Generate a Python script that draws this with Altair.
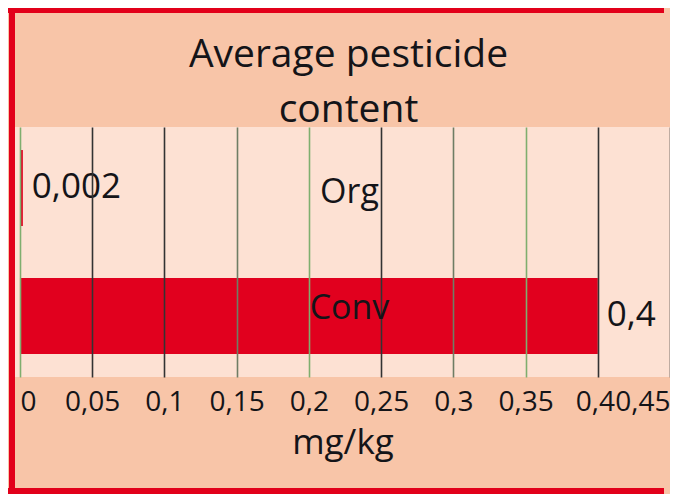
import altair as alt
import pandas as pd

# ---- data ----
categories = ["Org", "Conv"]
values = [0.002, 0.4]
value_labels = ["0,002", "0,4"]
tick_values = [0, 0.05, 0.1, 0.15, 0.2, 0.25, 0.3, 0.35, 0.4, 0.45]
title_lines = ["Average pesticide", "content"]
x_title = "mg/kg"

df = pd.DataFrame({"cat": categories, "val": values, "lab": value_labels})

FONT = "Open Sans"
TXT = "#141418"
RED = "#e1001e"
BORDER = "#e2001a"
W, H = 655, 250

xscale = alt.Scale(domain=[-0.00344, 0.45], nice=False, zero=False)
yscale = alt.Scale(domain=categories, paddingInner=0.406, paddingOuter=0.18)

x_axis = alt.Axis(
    values=tick_values,
    labelExpr="replace(toString(datum.value), '.', ',')",
    domain=False,
    ticks=False,
    tickSize=0,
    grid=True,
    gridWidth=1.6,
    gridColor={
        "condition": [
            {"test": "indexof([0, 20, 35], round(datum.value * 100)) >= 0", "value": "#7fae6e"},
            {"test": "indexof([15, 30], round(datum.value * 100)) >= 0", "value": "#6f7d64"},
        ],
        "value": "#333333",
    },
    labelFont=FONT,
    labelFontSize=28,
    labelColor=TXT,
    labelPadding=11,
    labelFlush=8,
    labelFlushOffset=0,
    labelOffset={"condition": {"test": "round(datum.value * 100) == 40", "value": -3}, "value": 0},
    labelOverlap=False,
    title=x_title,
    titleFont=FONT,
    titleFontSize=35,
    titleFontWeight="normal",
    titleColor=TXT,
    titlePadding=9,
    zindex=1,
)

y_axis = alt.Axis(
    domain=False,
    ticks=False,
    tickSize=0,
    grid=False,
    labelAlign="center",
    labelBaseline="middle",
    labelPadding=-334,
    labelOffset={"condition": {"test": "datum.value == 'Org'", "value": 5}, "value": -7},
    labelFont=FONT,
    labelFontSize=34,
    labelColor=TXT,
    labelOverlap=False,
    zindex=1,
)

base = alt.Chart(df)

bars = base.mark_bar(color=RED).encode(
    y=alt.Y("cat:N", scale=yscale, sort=categories, axis=y_axis, title=None),
    x=alt.X("val:Q", scale=xscale, axis=x_axis),
)

texts = base.mark_text(
    align="left", baseline="middle", dx=9, dy=-1,
    font=FONT, fontSize=35, color=TXT,
).encode(
    y=alt.Y("cat:N", scale=yscale, sort=categories),
    x=alt.X("val:Q", scale=xscale),
    text="lab:N",
)

# decorative red frame around the figure (top, left, bottom sides)
one = alt.Data(values=[{"f": 1}])
frame_top = alt.Chart(one).mark_rule(color=BORDER, strokeWidth=6).encode(
    x=alt.value(-7), x2=alt.value(W - 6), y=alt.value(-117)
)
frame_bottom = alt.Chart(one).mark_rule(color=BORDER, strokeWidth=6).encode(
    x=alt.value(-7), x2=alt.value(W - 6), y=alt.value(364)
)
frame_left = alt.Chart(one).mark_rule(color=BORDER, strokeWidth=6).encode(
    x=alt.value(-3), y=alt.value(-119), y2=alt.value(367)
)

chart = alt.layer(bars, texts, frame_top, frame_bottom, frame_left).properties(
    width=W,
    height=H,
    padding={"left": 7, "top": 119, "right": 0, "bottom": 117},
    autosize=alt.AutoSizeParams(type="none"),
    background="#f8c5a8",
    title=alt.TitleParams(
        title_lines, font=FONT, fontSize=39, fontWeight="normal", color=TXT,
        anchor="middle", frame="group", offset=-125, lineHeight=55, dx=6,
    ),
).configure_view(fill="#fde1d3", strokeWidth=0)

chart.save("out.html", embed_options={"renderer": "svg", "actions": False})
